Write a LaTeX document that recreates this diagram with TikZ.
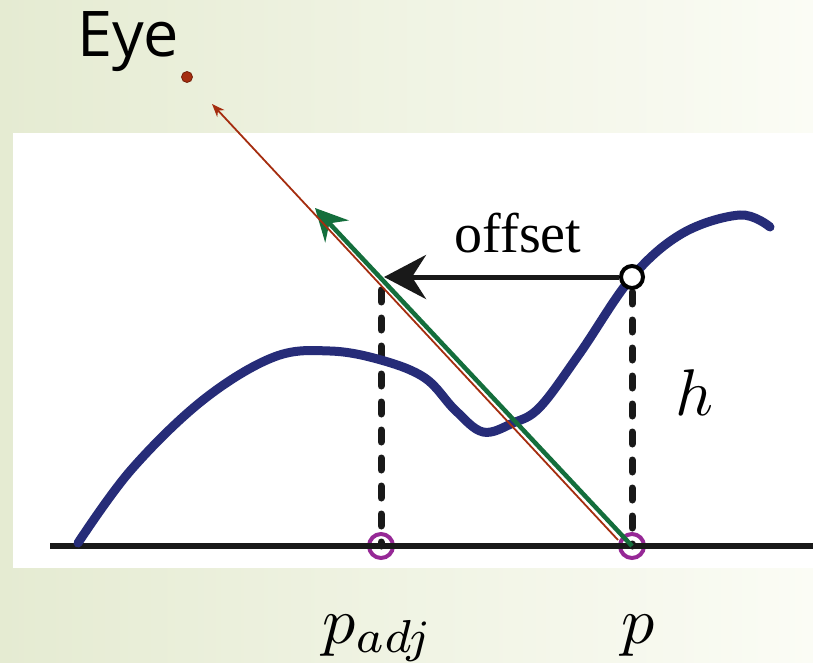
\documentclass[tikz,border=0pt]{standalone}
\usepackage{fontspec}
\newfontfamily\eyefont{Open Sans}
\newfontfamily\tagfont{Liberation Serif}
\usetikzlibrary{arrows.meta}

\definecolor{bgleft}{RGB}{229,235,210}
\definecolor{bgright}{RGB}{251,252,245}
\definecolor{surfblue}{RGB}{38,44,120}
\definecolor{raybrown}{RGB}{165,45,15}
\definecolor{viewgreen}{RGB}{20,110,60}
\definecolor{markpurple}{RGB}{150,40,150}

\newcommand{\bigmath}[1]{\scalebox{6.6}{$#1$}}

\begin{document}
\begin{tikzpicture}[
  x=1pt, y=-1pt,
  every node/.style={inner sep=0pt},
  ground/.style={line width=5.5pt, draw=black!90},
  drop/.style={line width=7pt, draw=black!90, line cap=round,
               dash pattern=on 12pt off 16pt},
  surface/.style={line width=9pt, draw=surfblue, line cap=round},
  eyeray/.style={-{Stealth[length=13pt,width=10pt]}, line width=1.8pt, draw=raybrown},
  viewarr/.style={-{Stealth[length=32pt,width=32pt,inset=11pt]}, line width=4.5pt,
                  draw=viewgreen},
  offsetarr/.style={-{Stealth[length=42pt,width=44pt,inset=14pt]}, line width=5pt,
                    draw=black!90},
  hitmark/.style={circle, draw=black, fill=white, line width=4pt, minimum size=22pt},
  footmark/.style={circle, draw=markpurple, line width=4pt, minimum size=24pt},
  eyedot/.style={circle, fill=raybrown, draw=raybrown!70!black, line width=0.8pt,
                 minimum size=11pt},
  mathtag/.style={anchor=base},
]

% -- positions -------------------------------------------------------
\def\xAdj{381}
\def\xP{632}
\def\yBase{546}
\def\yHit{277}

% -- slide background and white panel -------------------------------
\fill[left color=bgleft, right color=bgright] (0,0) rectangle (813,663);
\useasboundingbox (0,0) rectangle (813,663);
\fill[white] (13,133) rectangle (813,568);

% -- eye ---------------------------------------------------------------
\node[anchor=base west, font=\eyefont\fontsize{63}{66}\selectfont] (eyeLabel)
  at (77,57) {Eye};
\node[eyedot] (eye) at (187,77) {};

% -- marks -------------------------------------------------------------
\node[footmark] (pAdj) at (\xAdj,\yBase) {};
\node[footmark] (p)    at (\xP,\yBase) {};
\coordinate (baseL)  at (50,\yBase);
\coordinate (baseR)  at (813,\yBase);
\coordinate (adjTop) at (\xAdj,290);
\coordinate (offTip) at (384,\yHit);
\coordinate (greenTip) at (315,208);
\coordinate (rayStart) at (618,540);
\coordinate (rayTip)   at (212,104);

% -- ground and height drops --------------------------------------------
\draw[ground] (baseL) -- (baseR);
\draw[drop] (adjTop) -- (pAdj.center);
\draw[drop] (\xP,292) -- (p.center);

% -- height field ---------------------------------------------------------
\draw[surface] plot[smooth, tension=0.6] coordinates {
  (78,543) (131,470) (203,400) (274,357) (330,351) (381,360) (425,378)
  (455,410) (483,432) (513,423) (540,407) (580,353) (632,277) (683,233)
  (740,215) (770,227)};

% -- rays ------------------------------------------------------------------
\draw[viewarr] (p.center) -- (greenTip);
\draw[eyeray] (rayStart) -- (rayTip);

% -- offset ------------------------------------------------------------------
\node[hitmark] (hit) at (\xP,\yHit) {};
\draw[offsetarr] (hit.west) -- (offTip);
\node[anchor=base, font=\tagfont\fontsize{56}{60}\selectfont] (offsetLabel)
  at (518,252) {offset};

% -- labels ------------------------------------------------------------------
\node[mathtag] (hLabel)    at (695,415) {\bigmath{h}};
\node[mathtag] (pAdjLabel) at (378,643) {\bigmath{p_{adj}}};
\node[mathtag] (pLabel)    at (638,643) {\bigmath{p}};

\end{tikzpicture}
\end{document}
